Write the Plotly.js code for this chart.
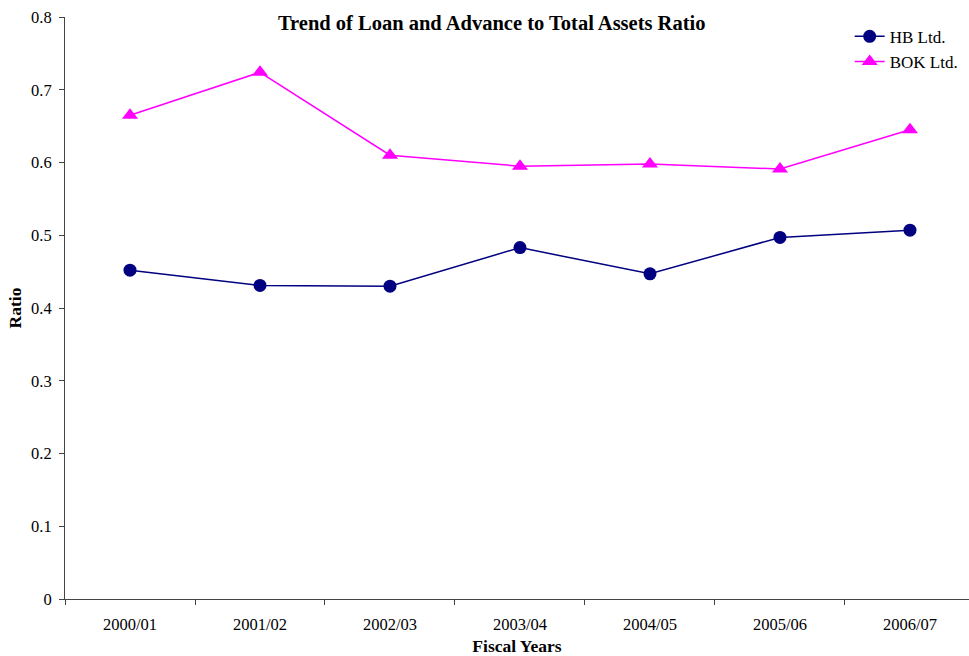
<!DOCTYPE html>
<html>
<head>
<meta charset="utf-8">
<script src="https://cdn.plot.ly/plotly-3.0.1.min.js"></script>
<style>html,body{margin:0;padding:0;background:#fff;}#chart{width:969px;height:656px;}</style>
</head>
<body>
<div id="chart"></div>
<script>
const years = ["2000/01","2001/02","2002/03","2003/04","2004/05","2005/06","2006/07"];
const hbLtd = [0.452, 0.431, 0.430, 0.483, 0.447, 0.497, 0.507];
const bokLtd = [0.665, 0.724, 0.610, 0.595, 0.598, 0.591, 0.645];
const yTicks = [0, 0.1, 0.2, 0.3, 0.4, 0.5, 0.6, 0.7, 0.8];

const font = "Liberation Serif, Times New Roman, serif";
const traces = [
  {x: years, y: hbLtd, name: "HB Ltd.", type: "scatter", mode: "lines+markers",
   line: {color: "#000080", width: 1.5},
   marker: {symbol: "circle", size: 13, color: "#000080"}},
  {x: years, y: bokLtd, name: "BOK Ltd.", type: "scatter", mode: "lines+markers",
   line: {color: "#FF00FF", width: 1.5},
   marker: {symbol: "triangle-up", size: 14, color: "#FF00FF"}}
];
const layout = {
  width: 969, height: 656,
  margin: {l: 65, r: 0, t: 17, b: 57},
  paper_bgcolor: "#fff", plot_bgcolor: "#fff",
  font: {family: font, size: 16.5, color: "#000"},
  title: {text: "<b>Trend of Loan and Advance to Total Assets Ratio</b>",
          x: 0.472, xref: "paper", xanchor: "center", y: 0.965, yref: "container", yanchor: "middle",
          font: {family: font, size: 20.5, color: "#000"}},
  xaxis: {type: "category", range: [-0.5, 6.454], showline: true, linecolor: "#444", linewidth: 1,
          ticks: "outside", ticklen: 5, tickcolor: "#444", tickson: "boundaries",
          ticklabelstandoff: 10,
          tickfont: {family: font, size: 16.5},
          showgrid: false, zeroline: false, fixedrange: true,
          title: {text: "<b>Fiscal Years</b>", standoff: 12, font: {family: font, size: 17.5}}},
  yaxis: {range: [0, 0.8], tickvals: yTicks, ticktext: yTicks.map(String),
          showline: true, linecolor: "#444", linewidth: 1,
          ticks: "outside", ticklen: 5, tickcolor: "#444", showgrid: false, zeroline: false,
          ticklabelstandoff: 4,
          tickfont: {family: font, size: 16.5},
          title: {text: "<b>Ratio</b>", standoff: 4, font: {family: font, size: 17.5}}},
  legend: {x: 0.868, y: 0.997, xanchor: "left", yanchor: "top", bgcolor: "rgba(0,0,0,0)",
           font: {family: font, size: 17}, tracegroupgap: 4},
  showlegend: true
};
Plotly.newPlot("chart", traces, layout, {displayModeBar: false, staticPlot: true});
</script>
</body>
</html>
